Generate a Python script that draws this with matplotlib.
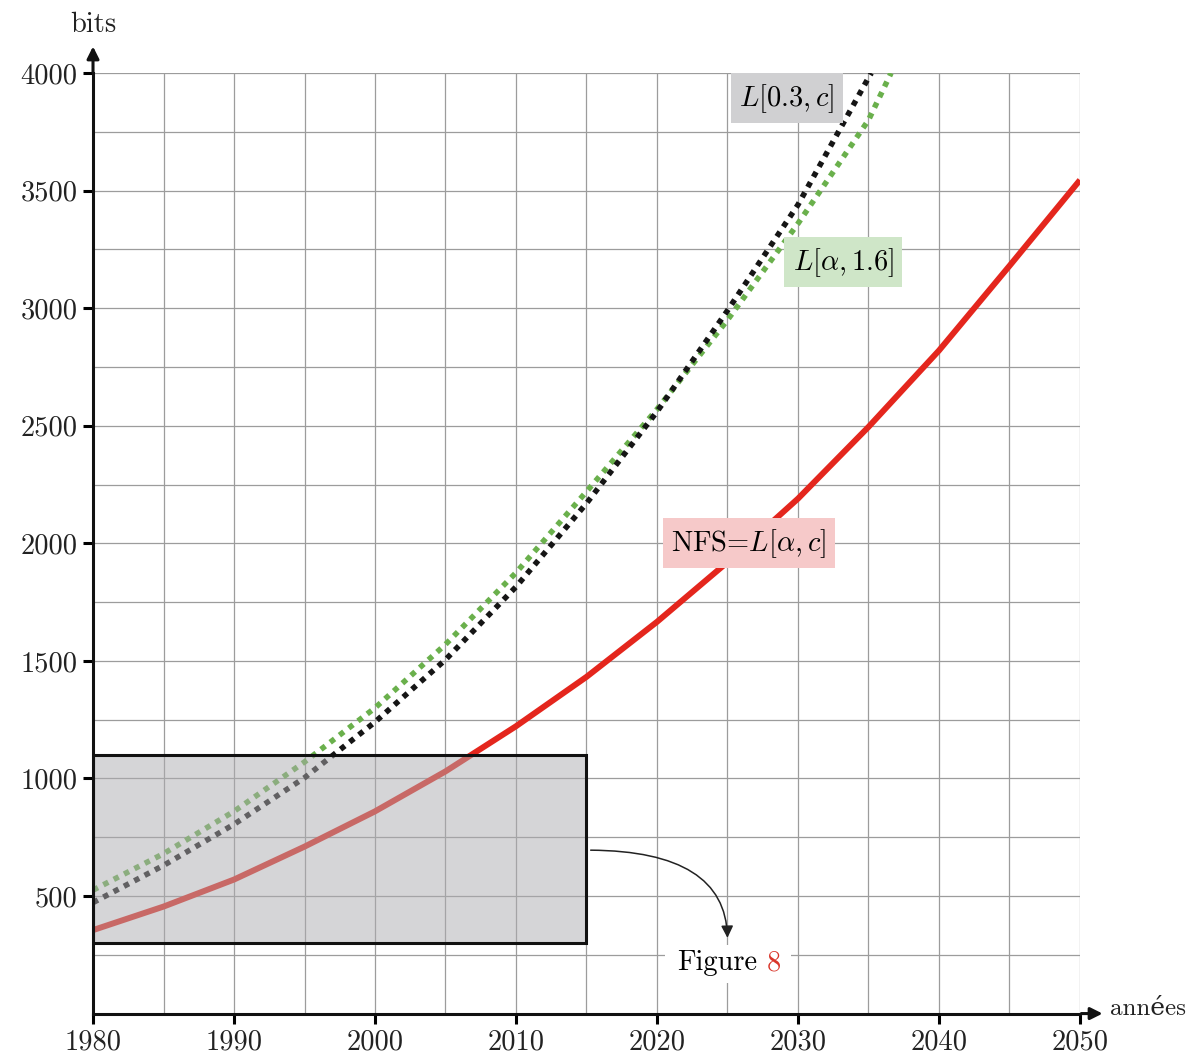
import numpy as np
import matplotlib
matplotlib.use('Agg')
import matplotlib.pyplot as plt
from matplotlib.patches import Rectangle, FancyArrowPatch

plt.rcParams['font.family'] = ['cmr10', 'DejaVu Serif']
plt.rcParams['mathtext.fontset'] = 'cm'
plt.rcParams['axes.formatter.use_mathtext'] = True

# values
years_nfs = [1980, 1985, 1990, 1995, 2000, 2005, 2010, 2015, 2020, 2025, 2030, 2035, 2040, 2045, 2050]
bits_nfs = [355, 455, 570, 710, 860, 1030, 1222, 1432, 1666, 1920, 2190, 2495, 2820, 3180, 3545]

years_c = [1980, 1985, 1990, 1995, 2000, 2005, 2010, 2015, 2020, 2025, 2030, 2035, 2035.2]
bits_c = [472, 630, 805, 1003, 1240, 1505, 1815, 2170, 2560, 2990, 3440, 3980, 4000]

years_a = [1980, 1985, 1990, 1995, 2000, 2005, 2010, 2015, 2020, 2025, 2030, 2035, 2036.6]
bits_a = [525, 680, 860, 1070, 1300, 1570, 1875, 2220, 2570, 2950, 3360, 3800, 4000]

xticks = [1980, 1990, 2000, 2010, 2020, 2030, 2040, 2050]
yticks = [500, 1000, 1500, 2000, 2500, 3000, 3500, 4000]

FS = 20.5

fig = plt.figure(figsize=(11.94, 10.59), dpi=100)
ax = fig.add_axes([0.0779, 0.0429, 0.8266, 0.8881])

ax.set_xlim(1980, 2050)
ax.set_ylim(0, 4000)

# grid every 5 years / 250 bits
ax.set_xticks(np.arange(1980, 2051, 5), minor=True)
ax.set_yticks(np.arange(0, 4001, 250), minor=True)
ax.set_xticks(xticks)
ax.set_yticks(yticks)
ax.set_xticklabels([str(v) for v in xticks])
ax.set_yticklabels([str(v) for v in yticks])
ax.grid(True, which='both', color='#9c9c9c', lw=0.9, zorder=0)
ax.tick_params(which='minor', length=0)
ax.tick_params(which='major', direction='out', length=7, width=2.2, labelsize=FS, pad=4,
               labelcolor='#222222')

for s in ['top', 'right']:
    ax.spines[s].set_visible(False)
for s in ['left', 'bottom']:
    ax.spines[s].set_linewidth(2.2)
    ax.spines[s].set_color('#111111')
    ax.spines[s].set_zorder(6)

# curves
ax.plot(years_nfs, bits_nfs, color='#e4261d', lw=4.3, zorder=3, solid_capstyle='butt')
ax.plot(years_a, bits_a, color='#6ab04c', lw=4.0, ls=(0, (1, 1.1)), zorder=3, dash_capstyle='butt')
ax.plot(years_c, bits_c, color='#151515', lw=4.0, ls=(0, (1, 1.1)), zorder=3, dash_capstyle='butt')

# zoom box (translucent grey over the curves)
ax.add_patch(Rectangle((1980, 300), 35, 800, facecolor=(0.68, 0.675, 0.69), alpha=0.5,
                       edgecolor='none', zorder=4))
ax.add_patch(Rectangle((1980, 300), 35, 800, facecolor='none', edgecolor='#111111',
                       lw=2.2, zorder=5))

arr = FancyArrowPatch((2015.1, 695), (2025, 310), connectionstyle='angle3,angleA=0,angleB=90',
                      arrowstyle='-|>', mutation_scale=18, lw=1.1, color='#222222', zorder=5)
ax.add_patch(arr)

# labels
ax.text(2029.2, 3893, r'$L[0.3,c]$', fontsize=FS, ha='center', va='center', zorder=7,
        bbox=dict(boxstyle='square,pad=0.3', fc='#d0d0d2', ec='none'))
ax.text(2033.2, 3195, r'$L[\alpha,1.6]$', fontsize=FS, ha='center', va='center', zorder=7,
        bbox=dict(boxstyle='square,pad=0.3', fc='#cfe6c8', ec='none'))
ax.text(2026.5, 2000, r'NFS=$L[\alpha,c]$', fontsize=FS, ha='center', va='center', zorder=7,
        bbox=dict(boxstyle='square,pad=0.3', fc='#f6c9c9', ec='none'))

# "Figure 8" on a white backdrop
ax.add_patch(Rectangle((2020.6, 130), 8.9, 160, facecolor='white', edgecolor='none', zorder=6))
ax.text(2021.4, 215, 'Figure', fontsize=FS, ha='left', va='center', zorder=7)
ax.text(2027.75, 215, '8', fontsize=FS, ha='left', va='center', color='#d9352a', zorder=7)

# axis arrows
ax.annotate('', xy=(1980, 4125), xytext=(1980, 3990), annotation_clip=False,
            arrowprops=dict(arrowstyle='-|>', lw=2.2, color='#111111', mutation_scale=18))
ax.annotate('', xy=(2051.8, 0), xytext=(2049.9, 0), annotation_clip=False,
            arrowprops=dict(arrowstyle='-|>', lw=2.2, color='#111111', mutation_scale=18))
ax.text(1980, 4205, 'bits', fontsize=FS, ha='center', va='center', color='#222222')
ax.text(2052.1, 20, 'années', fontsize=18, ha='left', va='center', color='#222222')

fig.savefig('out.png', dpi=100)
